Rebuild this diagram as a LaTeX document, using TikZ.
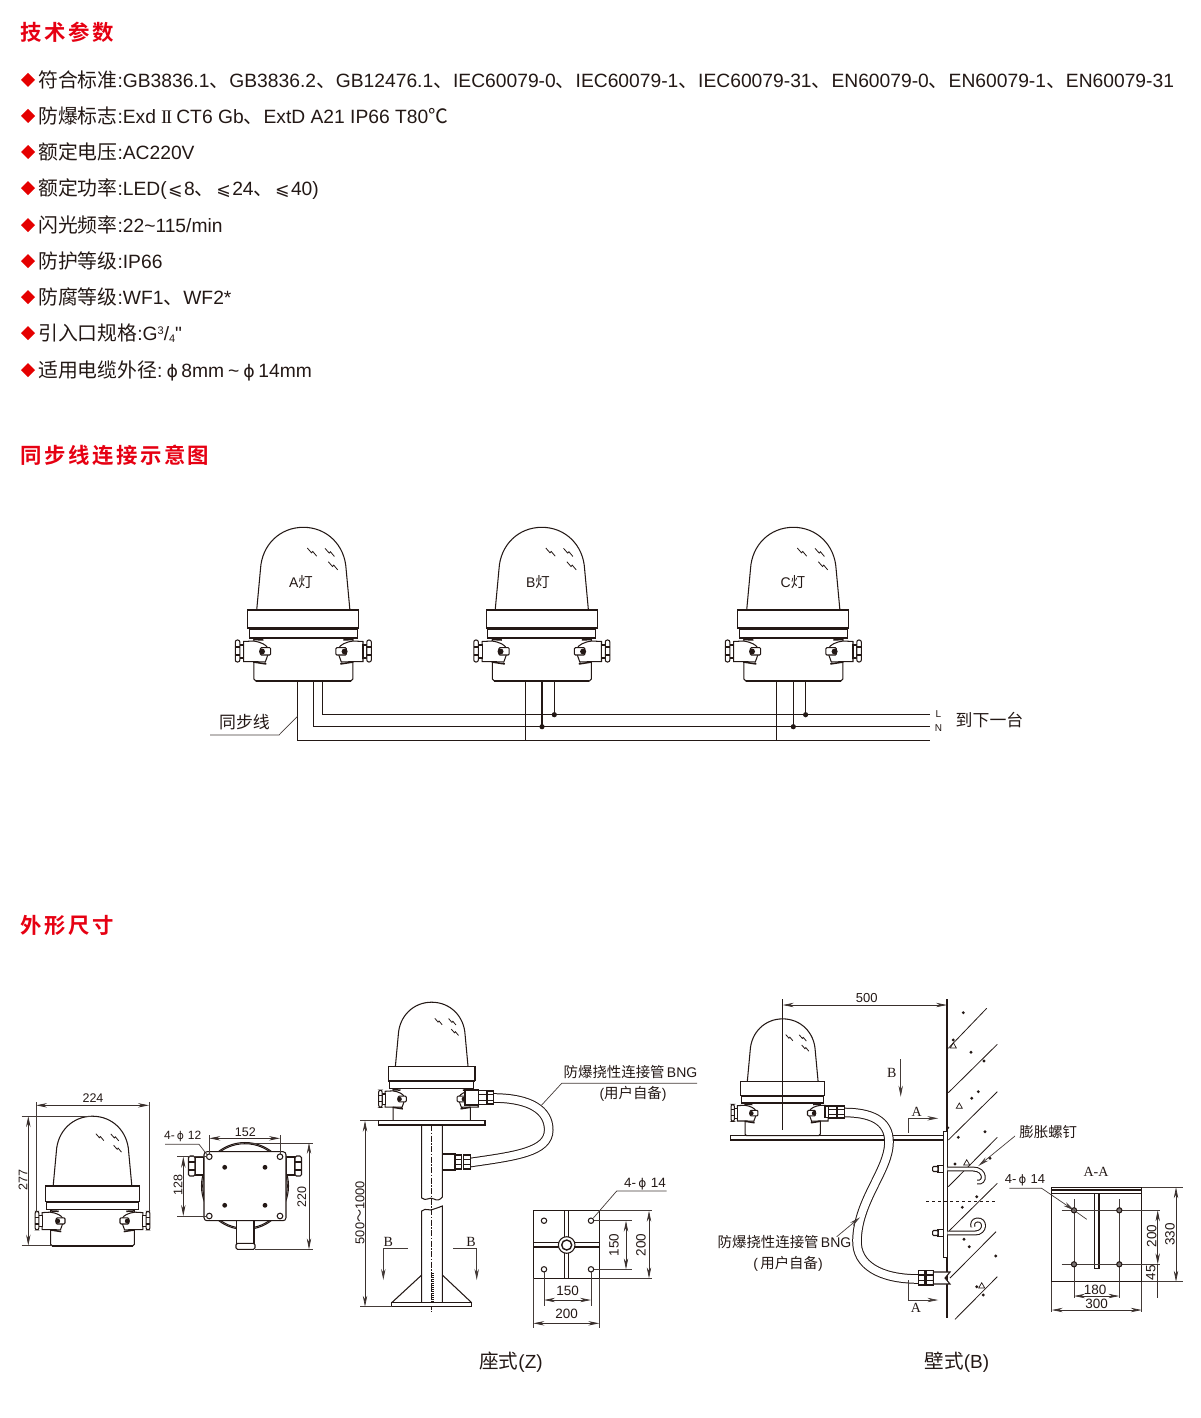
\documentclass[tikz,border=0pt]{standalone}
\usepackage{fontspec}
\usepackage{amsmath}
\usetikzlibrary{arrows.meta}
\usetikzlibrary{calc}
\usetikzlibrary{positioning}
\setmainfont{Liberation Sans}
\newfontfamily\plainsans{Liberation Sans}
\newfontfamily\cjk[Scale=1.03]{Noto Sans CJK SC}
\newfontfamily\cjkhead[LetterSpace=12]{Noto Sans CJK SC Bold}
\newfontfamily\symfont[Scale=0.9]{DejaVu Sans}
\newfontfamily\serifltr{Liberation Serif}
\newcommand{\zh}[1]{{\cjk #1}}
\newcommand{\fsz}[1]{\fontsize{#1}{#1}\selectfont}
\newcommand{\phichar}{{\symfont ϕ}}
\newcommand{\leqchar}{{\symfont\kern1.5pt ⩽\kern1.5pt}}
\definecolor{ink}{HTML}{231815}
\definecolor{headred}{HTML}{E60012}

\newcommand{\glandinner}[1]{
  \draw[part,fill=white] (#1*59.7,31.5) -- (#1*50,31) .. controls (#1*42,32) and (#1*37,35) .. (#1*35.5,38)
     -- (#1*35.5,45) -- (#1*38,52) -- (#1*47,51.7) -- (#1*59.7,51.7) -- cycle;
  \draw[part,fill=white,rounded corners=1pt] (#1*43,37.7) rectangle (#1*32.6,45);
  \fill[ink] (#1*41.3,41.5) circle (3);
  \draw[ink,line width=1.5pt] (#1*50,52) -- (#1*37,54);
  \draw[ink,line width=1.5pt] (#1*50,29.5) -- (#1*40,30);
}
\newcommand{\glandouter}[1]{
  \draw[part,fill=white] (#1*59.7,35) rectangle (#1*63.5,48);
  \draw[part,fill=white,rounded corners=2pt] (#1*63.5,30) rectangle (#1*68,52);
  \draw[part] (#1*63.5,37) -- (#1*68,37) (#1*63.5,45) -- (#1*68,45);
}
\newcommand{\fitting}[4]{% x1, x2, y1, y2
  \draw[part,fill=white] (#1,#3) rectangle (#2,#4);
  \draw[part] (#1,{#3+(#4-#3)*0.3}) -- (#2,{#3+(#4-#3)*0.3}) (#1,{#3+(#4-#3)*0.7}) -- (#2,{#3+(#4-#3)*0.7});
}
\newcommand{\lampcore}{
  % dome
  \draw[part,fill=white] (-46.6,0) -- (-42.8,-41) .. controls (-41.5,-65) and (-23.5,-82.7) .. (0,-82.7)
     .. controls (23.5,-82.7) and (41.5,-65) .. (42.8,-41) -- (46.6,0);
  \foreach \a/\b in {4/-62, 21.7/-61.7, 25/-48.3}
    \draw[ink,line width=0.8pt] (\a,\b) -- ++(4.2,4.8) -- ++(1.2,-1.4) -- ++(4,4.8);
  % collar and base
  \draw[part,fill=white] (-49.5,28) -- (-49.5,69) -- (-47.5,71) -- (47.5,71) -- (49.5,69) -- (49.5,28);
  \draw[ink,line width=1.6pt] (-47.5,71) -- (47.5,71);
  \draw[part,fill=white] (-54,19) rectangle (54,28);
  \draw[part,fill=white] (-55.5,0) rectangle (55.5,18);
  \draw[ink,line width=1.5pt] (-55.5,18.3) -- (55.5,18.3) (-54,28) -- (54,28);
  \foreach \s in {-1,1} { \glandinner{\s} }
  \glandouter{-1}
}

\tikzset{
  part/.style={ink, line width=1.05pt},
  extline/.style={ink!85, line width=0.6pt},
  dimline/.style={<->, ink!90, line width=0.7pt},
  leaderline/.style={ink!85, line width=0.7pt},
  wire/.style={ink, line width=1.2pt},
  hose/.style={ink, line width=1pt, double=white, double distance=7.6pt},
  dimtext/.style={ink, font=\fsz{13.5}, inner sep=0pt},
  lbltext/.style={ink, font=\fsz{14}, inner sep=0pt},
  serifletter/.style={ink, font=\serifltr\fsz{14}, inner sep=0pt},
  head/.style={headred, anchor=base west, inner sep=0pt, font=\cjkhead\fsz{21.4}},
  spec/.style={ink, anchor=base west, inner sep=0pt, font=\fsz{19.25}},
  lampbody/.pic={\lampcore},
  lamp/.pic={\lampcore \glandouter{1}}
}

\begin{document}
\begin{tikzpicture}[x=1pt, y=-1pt, >={Stealth[length=11pt,width=4.4pt]}]
\useasboundingbox (0,0) rectangle (1200,1418);

% Section titles
\node[head] (titlespec) at (20,41) {技术参数};
\node[head] (titlesync) at (20,463) {同步线连接示意图};
\node[head] (titledim) at (20,933) {外形尺寸};

% Spec list
\foreach \y/\txt in {
  87/{\zh{符合标准}:GB3836.1\zh{、}GB3836.2\zh{、}GB12476.1\zh{、}IEC60079-0\zh{、}IEC60079-1\zh{、}IEC60079-31\zh{、}EN60079-0\zh{、}EN60079-1\zh{、}EN60079-31},
  123/{\zh{防爆标志}:Exd\kern5pt{\serifltr I\kern-1.5pt I}\kern4pt CT6 Gb\zh{、}ExtD A21 IP66 T80\zh{℃}},
  159/{\zh{额定电压}:AC220V},
  195/{\zh{额定功率}:LED(\leqchar 8\zh{、}\leqchar 24\zh{、}\leqchar 40)},
  232/{\zh{闪光频率}:22\textasciitilde 115/min},
  268/{\zh{防护等级}:IP66},
  304/{\zh{防腐等级}:WF1\zh{、}WF2*},
  340/{\zh{引入口规格}:G\raisebox{6pt}{\fsz{11}3}/\raisebox{-2pt}{\fsz{11}4}{\plainsans"}},
  377/{\zh{适用电缆外径}:\kern4pt\phichar\kern3.5pt 8mm\kern4pt\textasciitilde\kern4pt\phichar\kern3.5pt 14mm}} {
  \fill[red!90!black] (21,\y-7) -- (28,\y-14) -- (35,\y-7) -- (28,\y) -- cycle;
  \node[spec,yshift=-0.8pt] (spec\y) at (38,\y) {\txt};
}

% Sync wiring
\pic at (303.3,610) {lamp};
\pic at (541.8,610) {lamp};
\pic at (793.3,610) {lamp};
\node[ink, font=\fsz{14}, inner sep=0pt] (nameA) at (301,582) {A\zh{灯}};
\node[ink, font=\fsz{14}, inner sep=0pt] (nameB) at (538,582) {B\zh{灯}};
\node[ink, font=\fsz{14}, inner sep=0pt] (nameC) at (793,582) {C\zh{灯}};

\draw[wire] (297.7,681) |- (930,740.7);
\draw[wire] (313.3,681) |- (930,726.7);
\draw[wire] (322.3,681) |- (930,714.7);
\foreach \x in {525.3,776.6} {
  \draw[wire] (\x,681) -- (\x,740.7);
  \draw[wire] ({\x+16.7},681) -- ({\x+16.7},726.7);
  \draw[wire] ({\x+29},681) -- ({\x+29},714.7);
  \fill[ink] ({\x+16.7},726.7) circle (2.6);
  \fill[ink] ({\x+29},714.7) circle (2.6);
}
\node[ink, font=\fsz{10}, inner sep=0pt] (labelL) at (938.5,714.5) {L};
\node[ink, font=\fsz{10}, inner sep=0pt] (labelN) at (938.5,728) {N};
\node[ink, font=\cjk\fsz{16.4}, inner sep=0pt] (nextone) at (989.5,720) {到下一台};
\node[ink, font=\cjk\fsz{16.4}, inner sep=0pt] (syncname) at (244.5,722) {同步线};
\draw[leaderline] (210,735) -- (279,735) -- (297.3,716.5);

% Front view
\pic[scale=0.844] at (92.5,1186) {lamp};
\draw[extline] (36,1102) -- (36,1212);
\draw[extline] (149,1102) -- (149,1212);
\draw[dimline] (36,1105.3) -- (149,1105.3);
\node[dimtext, font=\fsz{12.5}] (dimwidth) at (93,1098.5) {224};
\draw[extline] (21.7,1116) -- (93,1116);
\draw[extline] (21.7,1245.7) -- (52,1245.7);
\draw[dimline] (28.3,1116) -- (28.3,1245.7);
\node[dimtext, font=\fsz{12.5}, rotate=90] (dimheight) at (23,1180) {277};

% Top view
\draw[part,fill=white] (245,1186) circle (43.5);
\draw[part] (245,1186) circle (42.3);
\draw[part,fill=white] (236.7,1220) rectangle (254,1243.3);
\draw[part,fill=white,rounded corners=1.5pt] (236,1243.3) rectangle (255,1249.3);
\draw[part,fill=white] (195,1157) rectangle (204,1175);
\draw[part,fill=white] (286,1157) rectangle (295,1175);
\draw[part,fill=white,rounded corners=1.5pt] (188.5,1156) rectangle (195,1176);
\draw[part,fill=white,rounded corners=1.5pt] (295,1156) rectangle (301.5,1176);
\draw[part] (188.5,1162) -- (195,1162) (188.5,1170) -- (195,1170) (295,1162) -- (301.5,1162) (295,1170) -- (301.5,1170);
\draw[part,fill=white,rounded corners=3pt] (204,1151.7) rectangle (286,1220.7);
\foreach \x/\y in {209.3/1156.7, 280/1156.7, 209.3/1216, 280/1216}
  \draw[part] (\x,\y) circle (2.8);
\foreach \x/\y in {224.7/1167.3, 265/1167.3, 224.7/1205.3, 265/1205.3}
  \fill[ink] (\x,\y) circle (2.4);
\draw[extline] (209.3,1135) -- (209.3,1154) (280,1135) -- (280,1154);
\draw[dimline] (209.3,1138.3) -- (280,1138.3);
\node[dimtext, font=\fsz{12.5}] (dimbolt) at (245.3,1132.3) {152};
\node[dimtext, font=\fsz{12}] (holestop) at (182.7,1136.7) {4-\,\phichar\,\,12};
\draw[leaderline] (165,1144.3) -- (199,1144.3) -- (207.3,1155);
\draw[extline] (177.3,1156.7) -- (207,1156.7) (177.3,1216) -- (207,1216);
\draw[dimline] (183.3,1156.7) -- (183.3,1216);
\node[dimtext, font=\fsz{12.5}, rotate=90] (dimboltv) at (178,1185) {128};
\draw[extline] (245,1142.8) -- (313,1142.8) (255,1249.3) -- (313,1249.3);
\draw[dimline] (309,1142.8) -- (309,1249.3);
\node[dimtext, font=\fsz{12.5}, rotate=90] (dimdepth) at (301.7,1196.7) {220};

% Pedestal mount
\draw[part] (421.7,1125) -- (421.7,1198) .. controls (426,1202) and (430,1196) .. (434,1199) .. controls (437,1201) and (440,1200) .. (442.3,1197) -- (442.3,1125);
\draw[part] (421.7,1303) -- (421.7,1211) .. controls (426,1207) and (430,1212) .. (434,1209) .. controls (437,1207) and (440,1208) .. (442.3,1206) -- (442.3,1303);
\draw[ink, line width=0.5pt, dash pattern=on 6pt off 1.5pt on 1.5pt off 1.5pt] (431.7,1125) -- (431.7,1311.7);
\draw[part] (421.7,1275) -- (391.7,1302.7) (442.3,1275) -- (471.7,1302.7);
\draw[part,fill=white] (391.7,1302.7) rectangle (471.7,1306.7);
\draw[ink, line width=3pt, dash pattern=on 1.2pt off 0.8pt] (432.4,1273) -- (432.4,1302);
\draw[hose] (493,1098) .. controls (530,1098) and (548.7,1110) .. (548.7,1130) .. controls (548.7,1152) and (515,1156) .. (470.5,1162.5);
\pic[scale=0.78] at (431.7,1066.7) {lampbody};
\draw[part,fill=white] (378.3,1120.7) rectangle (485,1125);
\draw[part,fill=white] (442.3,1154) rectangle (455,1170);
\fitting{455}{461.7}{1155}{1169}
\fitting{463.3}{470.7}{1155}{1169}
\draw[part,fill=white] (465,1090) rectangle (478.3,1105);
\fitting{478.3}{486.7}{1090.5}{1104.5}
\fitting{487.7}{493.3}{1091}{1104}
\node[lbltext] (hoselabelz) at (630.5,1072) {\zh{防爆挠性连接管}\,BNG};
\node[lbltext] (hosenotez) at (633,1093.5) {(\zh{用户自备})};
\draw[leaderline] (697,1083.3) -- (561.7,1083.3) -- (541.7,1105);
\draw[extline] (360,1120.7) -- (378,1120.7) (360,1306.7) -- (392,1306.7);
\draw[dimline] (365,1120.7) -- (365,1306.7);
\node[dimtext, font=\fsz{12.8}, rotate=90] (dimpole) at (360,1212.7) {500\zh{～}1000};
\node[serifletter] (secBl) at (388.3,1242) {B};
\node[serifletter] (secBr) at (471,1242) {B};
\draw[leaderline,->] (407.7,1248.7) -- (383.3,1248.7) -- (383.3,1280);
\draw[leaderline,->] (453.3,1248.7) -- (476.7,1248.7) -- (476.7,1280);

% Pedestal base plate
\draw[part,fill=white] (533.3,1210.7) rectangle (599.3,1278.3);
\draw[part] (564.3,1210.7) -- (564.3,1278.3) (568.8,1210.7) -- (568.8,1278.3);
\draw[part] (533.3,1242.8) -- (599.3,1242.8) (533.3,1247) -- (599.3,1247);
\draw[part,fill=white] (566.7,1245) circle (8.3);
\draw[part,line width=1.4pt,fill=white] (566.7,1245) circle (5);
\foreach \x/\y in {544/1220.7, 591/1220.7, 544/1269.3, 591/1269.3}
  \draw[part] (\x,\y) circle (2.7);
\draw[extline] (599.3,1210.7) -- (651.7,1210.7) (599.3,1278.3) -- (651.7,1278.3);
\draw[extline] (594,1220.7) -- (631.7,1220.7) (594,1269.3) -- (631.7,1269.3);
\draw[dimline] (626,1220.7) -- (626,1269.3);
\node[dimtext, rotate=90] (dimplatein) at (614,1245) {150};
\draw[dimline] (649,1210.7) -- (649,1278.3);
\node[dimtext, rotate=90] (dimplate) at (641,1245) {200};
\draw[extline] (544,1272) -- (544,1306) (591,1272) -- (591,1306);
\draw[extline] (533.3,1278.3) -- (533.3,1328) (599.3,1278.3) -- (599.3,1328);
\draw[dimline] (544,1300) -- (591,1300);
\node[dimtext] (dimplatehin) at (567.7,1291) {150};
\draw[dimline] (533.3,1323.3) -- (599.3,1323.3);
\node[dimtext] (dimplateh) at (566.7,1314) {200};
\node[dimtext] (holesz) at (645,1184) {4-\,\phichar\,\,14};
\draw[leaderline] (666.7,1191) -- (616.7,1191) -- (593.3,1218);

% Wall mount
\foreach \xa/\ya/\xb/\yb in {948.3/1048.3/986.7/1008.3, 948.3/1092.7/997.3/1044.3, 948.3/1140/997.3/1091.7,
   948.3/1186.7/997.3/1137.3, 949.3/1230.7/997.3/1183.3, 950/1278/996/1231.7, 955/1319.3/997.3/1276.7}
  \draw[part,line width=0.8pt] (\xa,\ya) -- (\xb,\yb);
\foreach \x/\y in {963.3/1012.7, 971/1052.3, 984/1061, 978.3/1091.7, 971.7/1098.3, 985/1131.7, 958.3/1137.3, 947.7/1127.7,
   955/1164, 990/1158.3, 976.7/1196.7, 962.3/1207.3, 964/1239.3, 969.3/1246.7, 995.7/1256, 983.3/1295, 976.7/1286.7, 953.3/1040}
  \fill[ink] (\x,\y) circle (1.6);
\foreach \x/\y in {953.3/1045.7, 959.3/1106, 966.7/1162.7, 981.7/1285.7}
  \draw[ink, line width=0.7pt] (\x-3,\y+2.2) -- (\x+3,\y+2.2) -- (\x,\y-3) -- cycle;
\draw[ink, line width=1.5pt] (947,999.3) -- (947,1318.3);
\draw[part,fill=white] (730.7,1135.7) rectangle (943.3,1140);
\draw[part,fill=white] (943.3,1131.7) rectangle (947.3,1257.3);
\draw[part,dashed,line width=0.7pt] (926,1201.7) -- (997.3,1201.7);
\draw[part, double=white, double distance=2.8pt] (947.3,1169) -- (973,1169) .. controls (986,1169) and (986,1184) .. (977,1182);
\draw[part, double=white, double distance=2.8pt] (947.3,1233) -- (975,1233) .. controls (986,1233) and (986,1219) .. (977,1220) .. controls (973,1220.5) and (972,1224) .. (973,1227);
\foreach \y in {1169,1233} {
  \draw[part,fill=white] (938,\y-3.3) rectangle (943.3,\y+3.3);
  \draw[part,fill=white,rounded corners=1pt] (932.7,\y-2.5) rectangle (938,\y+2.5);
}
\draw[hose] (844.5,1112.5) .. controls (870,1112.5) and (889,1120) .. (889,1142) .. controls (889,1170) and (858,1200) .. (857,1240) .. controls (856,1265) and (880,1279) .. (918.5,1279);
\pic[scale=0.76] at (782.7,1081.7) {lampbody};
\draw[part,line width=0.8pt] (782.7,999.3) -- (782.7,1130);
\draw[part,fill=white] (825,1106.5) rectangle (828.3,1117.5);
\fitting{828.3}{836.7}{1106}{1118}
\fitting{837.3}{844.5}{1106}{1118}
\fitting{918.3}{925}{1270.7}{1285}
\fitting{926.7}{933.3}{1270.7}{1285}
\draw[part,fill=white] (933.3,1272) -- (950,1272) -- (945,1278) -- (950,1284) -- (933.3,1284) -- cycle;
\draw[dimline] (782.7,1005) -- (947,1005);
\node[dimtext, font=\fsz{13}] (dimwall) at (866.7,998.3) {500};
\node[serifletter] (secBw) at (891.7,1073.3) {B};
\draw[leaderline,->] (900.7,1059.3) -- (900.7,1096.7);
\node[serifletter] (secAt) at (916.7,1111.7) {A};
\draw[leaderline,->] (908.3,1132.7) -- (908.3,1118.3) -- (938.3,1118.3);
\node[serifletter] (secAb) at (916,1308.3) {A};
\draw[leaderline,->] (908.3,1280) -- (908.3,1300) -- (938.3,1300);
\node[lbltext] (hoselabelb) at (784.5,1241.7) {\zh{防爆挠性连接管}\,BNG};
\node[lbltext] (hosenoteb) at (788,1263.5) {(\,\zh{用户自备})};
\draw[leaderline,->] (836.7,1236.7) -- (860,1217.3);
\node[lbltext] (boltlabel) at (1048.3,1132.5) {\zh{膨胀螺钉}};
\draw[leaderline,->] (1015,1136) -- (978.3,1166);

% Section A-A
\draw[part,fill=white] (1051.7,1187.3) rectangle (1141.7,1281.7);
\draw[part] (1051.7,1190) -- (1141.7,1190) (1051.7,1193.3) -- (1141.7,1193.3);
\draw[part,fill=white] (1094.3,1193.3) rectangle (1099,1268.3);
\draw[extline] (1074,1199.3) -- (1074,1298.3) (1119.3,1199.3) -- (1119.3,1298.3);
\draw[extline] (1061.7,1210.3) -- (1160,1210.3) (1061.7,1264.3) -- (1160,1264.3);
\foreach \x/\y in {1074/1210.3, 1119.3/1210.3, 1074/1264.3, 1119.3/1264.3} {
  \draw[part,fill=ink!60] (\x,\y) circle (2.6);
}
\draw[extline] (1141.7,1187.3) -- (1183.3,1187.3) (1141.7,1281.7) -- (1183.3,1281.7);
\draw[dimline] (1157.7,1210.3) -- (1157.7,1264.3);
\node[dimtext, rotate=90] (dimaa) at (1151.7,1236) {200};
\draw[ink!90,line width=0.7pt] (1157.7,1264.3) -- (1157.7,1298);
\node[dimtext, rotate=90] (dimab) at (1150.7,1272.7) {45};
\draw[dimline] (1176,1187.3) -- (1176,1281.7);
\node[dimtext, rotate=90] (dimac) at (1170,1234.3) {330};
\draw[dimline] (1074,1296) -- (1119.3,1296);
\node[dimtext] (dimad) at (1095,1290) {180};
\draw[extline] (1051.7,1281.7) -- (1051.7,1311.7) (1141.7,1281.7) -- (1141.7,1311.7);
\draw[dimline] (1051.7,1310) -- (1141.7,1310);
\node[dimtext] (dimae) at (1096.7,1304) {300};
\node[serifletter] (secname) at (1096,1171.7) {A-A};
\node[dimtext, font=\fsz{13}] (holesaa) at (1025,1180.7) {4-\,\phichar\,\,14};
\draw[leaderline,->] (1009.3,1188.3) -- (1041.7,1188.3) -- (1074,1210.3);
\draw[leaderline] (1074,1210.3) -- (1086.7,1219.3);

% Captions
\node[ink, font=\fsz{19}, inner sep=0pt] (capZ) at (511,1362) {\zh{座式}(Z)};
\node[ink, font=\fsz{19}, inner sep=0pt] (capB) at (957,1362) {\zh{壁式}(B)};

\end{tikzpicture}
\end{document}
